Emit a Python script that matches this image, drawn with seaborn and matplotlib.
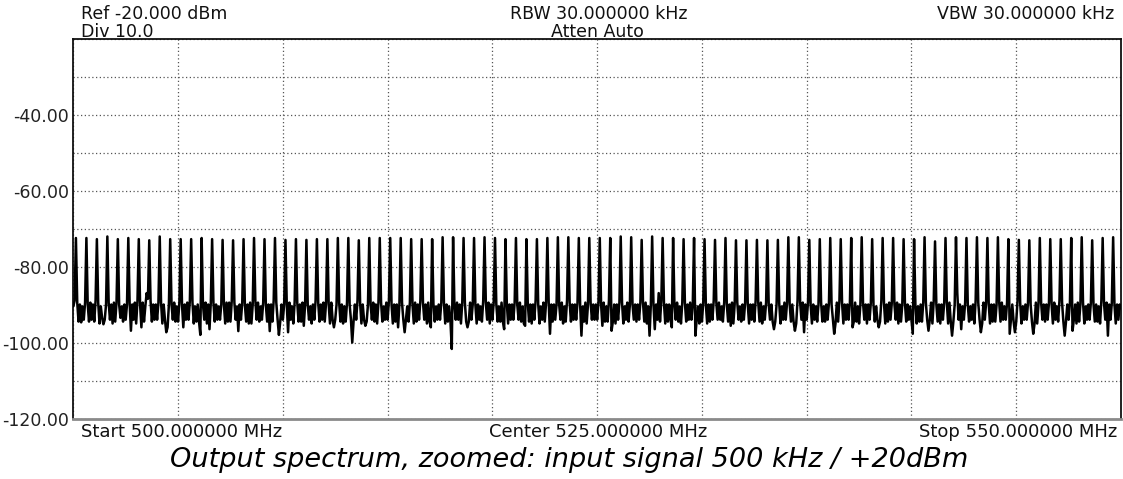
import numpy as np
import pandas as pd
import matplotlib
matplotlib.use("Agg")
import matplotlib.pyplot as plt
import seaborn as sns

# ---------------- data ----------------
start_mhz = 500.0
stop_mhz = 550.0
sweep_points = 801          # 8 sweep points per 0.5 MHz comb period

# peak level of each of the 100 comb lines (dBm), left to right
peak_dbm = [
    -72.5, -72.5, -72.8, -72.1, -72.8, -72.5, -72.8, -73.1, -72.1, -72.8,
    -72.8, -72.8, -72.5, -72.8, -73.0, -73.1, -72.8, -72.5, -72.8, -72.5,
    -73.0, -72.8, -73.0, -72.8, -72.8,
    -72.5, -72.5, -73.1, -72.5, -72.5, -72.5, -72.5, -72.8, -72.8, -72.8,
    -72.3, -72.3, -72.5, -72.5, -72.3, -72.5, -72.8, -72.5, -72.8, -72.8,
    -72.5, -72.3, -72.3, -72.5, -72.5,
    -72.5, -72.5, -72.1, -72.3, -73.0, -72.1, -72.5, -72.5, -72.8, -72.5,
    -72.8, -73.0, -72.5, -73.1, -73.1, -73.0, -73.1, -73.0, -72.3, -72.3,
    -73.0, -72.8, -72.5, -72.8,
    -72.5, -72.3, -72.8, -72.5, -72.5, -72.8, -72.8, -72.3, -73.4, -72.5,
    -72.3, -72.5, -72.3, -72.5, -72.3, -72.8, -73.0, -73.1, -72.5, -72.8,
    -72.8, -72.5, -72.3, -73.1, -72.5, -72.3,
]

# noise-floor sweep points of each comb period (dBm), the line itself excluded
floor_dbm = [
    [-90.5, -89.0, -89.5, -94.5, -90.0, -94.7, -90.5],
    [-94.0, -89.5, -90.0, -94.5, -89.5, -94.0, -90.0],
    [-94.5, -89.0, -89.5, -95.0, -90.5, -93.5, -95.2],
    [-94.0, -90.0, -89.5, -94.0, -90.0, -95.0, -89.5],
    [-94.5, -89.5, -90.0, -93.5, -90.5, -94.5, -90.0],
    [-94.0, -90.0, -89.5, -96.9, -90.0, -94.0, -89.5],
    [-95.0, -89.0, -90.0, -96.0, -89.5, -94.5, -90.5],
    [-87.0, -88.5, -89.0, -94.5, -90.0, -94.0, -90.0],
    [-94.0, -89.5, -89.5, -95.0, -90.0, -94.0, -97.3],
    [-96.0, -90.0, -90.0, -94.0, -89.5, -94.5, -90.5],
    [-94.5, -89.5, -90.0, -96.0, -90.0, -94.0, -89.5],
    [-94.0, -89.0, -89.5, -95.0, -90.5, -94.5, -90.0],
    [-94.5, -98.0, -90.0, -94.0, -89.5, -95.0, -90.0],
    [-96.5, -89.5, -89.5, -94.5, -90.0, -94.0, -90.5],
    [-94.0, -90.0, -90.0, -95.0, -89.5, -94.5, -89.5],
    [-94.5, -89.0, -89.5, -94.0, -90.5, -97.0, -90.0],
    [-94.0, -89.5, -90.0, -94.5, -90.0, -95.0, -89.5],
    [-95.0, -90.0, -89.0, -94.0, -89.5, -94.5, -90.5],
    [-94.0, -89.5, -90.0, -94.5, -90.0, -97.0, -90.0],
    [-94.5, -89.0, -89.5, -94.0, -98.0, -94.5, -90.0],
    [-94.0, -90.0, -90.0, -97.3, -89.5, -94.0, -90.5],
    [-95.0, -89.5, -89.5, -94.5, -90.0, -94.5, -89.5],
    [-95.6, -90.0, -90.0, -94.0, -90.5, -95.0, -90.0],
    [-94.0, -89.0, -89.5, -94.5, -90.0, -94.0, -89.5],
    [-94.5, -89.5, -90.0, -95.0, -89.5, -94.0, -96.0],
    [-94.0, -90.0, -89.5, -94.5, -90.0, -95.0, -90.5],
    [-94.5, -89.5, -90.0, -94.0, -100.0, -94.5, -90.0],
    [-94.0, -89.0, -89.5, -95.0, -90.0, -94.0, -95.6],
    [-94.5, -90.0, -90.0, -94.0, -89.5, -94.5, -90.0],
    [-95.0, -89.5, -89.5, -94.5, -90.5, -94.0, -89.5],
    [-94.0, -89.0, -90.0, -95.0, -90.0, -94.5, -90.0],
    [-96.0, -90.0, -89.5, -94.0, -97.3, -94.0, -90.5],
    [-94.5, -89.5, -90.0, -95.0, -89.5, -94.5, -90.0],
    [-94.0, -89.0, -89.5, -94.0, -90.0, -95.0, -89.5],
    [-94.5, -96.0, -90.0, -94.5, -90.5, -94.0, -90.0],
    [-94.0, -89.5, -89.5, -95.0, -90.0, -94.5, -90.5],
    [-94.5, -101.7, -90.0, -94.0, -89.5, -94.0, -90.0],
    [-95.0, -89.5, -89.5, -94.5, -96.0, -94.5, -89.5],
    [-94.0, -90.0, -90.0, -95.0, -90.0, -94.0, -90.5],
    [-94.5, -89.0, -89.5, -94.0, -89.5, -95.0, -90.0],
    [-94.0, -89.5, -90.0, -94.5, -90.5, -94.5, -89.5],
    [-94.5, -96.5, -89.5, -95.0, -90.0, -94.0, -90.0],
    [-94.0, -89.5, -90.0, -94.0, -89.5, -94.5, -90.5],
    [-95.0, -95.6, -89.5, -94.5, -90.0, -95.0, -90.0],
    [-94.0, -89.0, -90.0, -95.0, -90.5, -94.0, -89.5],
    [-94.5, -89.5, -89.5, -97.7, -90.0, -94.5, -90.0],
    [-94.0, -90.0, -90.0, -94.0, -89.5, -95.0, -90.5],
    [-94.5, -89.0, -89.5, -94.5, -90.0, -94.0, -90.0],
    [-94.0, -89.5, -90.0, -98.2, -90.5, -94.5, -89.5],
    [-95.0, -90.0, -89.5, -94.0, -90.0, -94.0, -90.0],
    [-94.0, -89.5, -90.0, -95.6, -89.5, -94.5, -90.5],
    [-94.5, -89.0, -96.9, -94.5, -90.0, -95.0, -90.0],
    [-94.0, -89.5, -89.5, -95.0, -90.5, -94.0, -89.5],
    [-94.5, -90.0, -90.0, -94.0, -90.0, -94.5, -90.0],
    [-94.0, -89.5, -89.5, -94.5, -89.5, -95.0, -90.5],
    [-98.2, -90.0, -90.0, -96.5, -90.0, -94.0, -87.0],
    [-94.5, -89.0, -89.5, -95.0, -90.0, -94.5, -90.0],
    [-94.0, -96.0, -90.0, -94.0, -89.5, -94.5, -90.5],
    [-95.0, -89.5, -89.5, -94.5, -90.0, -94.0, -89.5],
    [-94.0, -90.0, -98.2, -94.0, -90.5, -95.0, -90.0],
    [-94.5, -89.5, -90.0, -95.0, -90.0, -94.5, -90.0],
    [-94.0, -89.0, -89.5, -94.0, -89.5, -94.0, -90.5],
    [-94.5, -89.5, -90.0, -94.5, -90.0, -95.6, -89.5],
    [-95.0, -90.0, -89.5, -94.0, -90.5, -94.5, -90.0],
    [-94.0, -89.5, -90.0, -95.0, -90.0, -94.0, -90.0],
    [-94.5, -89.0, -89.5, -94.5, -89.5, -95.0, -90.5],
    [-94.0, -89.5, -90.0, -94.0, -90.0, -94.5, -96.5],
    [-94.5, -90.0, -89.5, -95.0, -90.5, -94.0, -89.5],
    [-94.0, -89.5, -90.0, -94.5, -90.0, -94.5, -96.9],
    [-95.0, -89.0, -89.5, -94.0, -89.5, -97.3, -90.0],
    [-94.0, -89.5, -90.0, -95.0, -90.0, -94.0, -90.5],
    [-94.5, -90.0, -89.5, -94.5, -90.5, -94.5, -90.0],
    [-94.0, -89.5, -90.0, -94.0, -97.7, -95.0, -89.5],
    [-94.5, -89.0, -89.5, -95.0, -90.0, -94.0, -90.0],
    [-94.0, -89.5, -96.0, -94.5, -89.5, -94.5, -90.5],
    [-95.0, -90.0, -89.5, -94.0, -90.0, -95.0, -90.0],
    [-94.0, -89.5, -90.0, -94.5, -90.5, -94.0, -96.0],
    [-94.5, -89.0, -89.5, -95.0, -90.0, -94.5, -89.5],
    [-94.0, -89.5, -90.0, -94.0, -89.5, -95.0, -90.0],
    [-94.5, -90.0, -89.5, -94.5, -90.0, -94.0, -90.5],
    [-94.0, -97.7, -90.0, -95.0, -90.5, -94.5, -90.0],
    [-94.5, -89.5, -89.5, -94.0, -96.9, -94.0, -89.5],
    [-95.0, -89.0, -90.0, -94.5, -90.0, -95.0, -90.0],
    [-94.0, -89.5, -89.5, -95.0, -89.5, -94.5, -98.2],
    [-94.5, -90.0, -87.0, -94.0, -90.0, -96.5, -90.5],
    [-94.0, -89.5, -90.0, -94.5, -90.5, -94.0, -90.0],
    [-95.0, -89.0, -89.5, -94.0, -97.3, -95.0, -89.5],
    [-94.0, -89.5, -90.0, -95.0, -90.0, -94.5, -90.0],
    [-94.5, -90.0, -89.5, -94.5, -89.5, -94.0, -90.5],
    [-94.0, -89.5, -97.7, -94.0, -90.0, -94.5, -97.3],
    [-94.5, -89.0, -89.5, -95.0, -90.5, -94.0, -90.0],
    [-94.0, -89.5, -90.0, -94.5, -97.7, -95.0, -89.5],
    [-95.0, -90.0, -89.5, -94.0, -90.0, -94.5, -90.0],
    [-94.0, -89.5, -90.0, -95.0, -89.5, -94.0, -90.5],
    [-94.5, -89.0, -89.5, -94.5, -98.2, -94.5, -90.0],
    [-94.0, -89.5, -96.9, -94.0, -90.0, -95.0, -89.5],
    [-94.5, -90.0, -89.5, -95.0, -90.5, -94.0, -90.0],
    [-94.0, -89.5, -90.0, -94.5, -90.0, -94.5, -90.5],
    [-95.0, -89.0, -89.5, -94.0, -89.5, -98.2, -90.0],
    [-94.0, -89.5, -90.0, -95.0, -90.0, -94.0, -90.0],
]
end_dbm = -91.0

y_grid_dbm = [-120, -110, -100, -90, -80, -70, -60, -50, -40, -30, -20]
y_label_text = {-120: "-120.00", -100: "-100.00", -80: "-80.00",
                -60: "-60.00", -40: "-40.00"}
x_grid_mhz = [500, 505, 510, 515, 520, 525, 530, 535, 540, 545, 550]

header_left = ["Ref -20.000 dBm", "Div 10.0"]
header_mid = ["RBW 30.000000 kHz", "Atten Auto"]
header_right = "VBW 30.000000 kHz"
footer = ["Start 500.000000 MHz", "Center 525.000000 MHz", "Stop 550.000000 MHz"]
caption = "Output spectrum, zoomed: input signal 500 kHz / +20dBm"

# ---------------- build the sweep trace ----------------
trace = []
for pk, row in zip(peak_dbm, floor_dbm):
    trace += [row[0], row[1], pk, row[2], row[3], row[4], row[5], row[6]]
trace.append(end_dbm)
freq = np.linspace(start_mhz, stop_mhz, sweep_points)
df = pd.DataFrame({"freq": freq, "dbm": trace})

# ---------------- figure ----------------
sns.set_style("white")
plt.rcParams["font.family"] = ["DejaVu Sans"]

W, H = 1123, 479
fig = plt.figure(figsize=(W / 100, H / 100), dpi=100)
L, R, T, B = 73.3, 1121.0, 38.5, 418.5
ax = fig.add_axes([L / W, 1 - B / H, (R - L) / W, (B - T) / H])

sns.lineplot(data=df, x="freq", y="dbm", ax=ax, color="black", linewidth=1.8,
             estimator=None, sort=False, zorder=3)

ax.set_xlim(start_mhz, stop_mhz)
ax.set_ylim(-120, -20)
ax.set_xticks(x_grid_mhz)
ax.set_xticklabels([""] * len(x_grid_mhz))
ax.set_yticks(y_grid_dbm)
ax.set_yticklabels([y_label_text.get(v, "") for v in y_grid_dbm])
ax.set_xlabel("")
ax.set_ylabel("")
ax.tick_params(axis="both", length=0, labelsize=12.5, pad=3, colors="#222222")
ax.grid(True, linestyle=(0, (1, 2)), color="#555555", linewidth=0.9)
ax.set_axisbelow(True)

for s in ["top", "left", "right"]:
    ax.spines[s].set_color("#111111")
    ax.spines[s].set_linewidth(1.3)
ax.spines["bottom"].set_color("#8a8a8a")
ax.spines["bottom"].set_linewidth(2.0)


def ftext(x, y, s, color="#111111", **kw):
    fig.text(x / W, 1 - y / H, s, va="baseline", color=color, **kw)


fs = 12.5
ftext(81, 19.0, header_left[0], ha="left", fontsize=fs)
ftext(81, 37.0, header_left[1], ha="left", fontsize=fs)
ftext(599, 19.0, header_mid[0], ha="center", fontsize=fs)
ftext(597, 37.0, header_mid[1], ha="center", fontsize=fs)
ftext(1114, 19.0, header_right, ha="right", fontsize=fs)

ftext(81, 437, footer[0], ha="left", fontsize=13)
ftext(598, 437, footer[1], ha="center", fontsize=13)
ftext(1117, 437, footer[2], ha="right", fontsize=13)

ftext(569, 467, caption, ha="center", fontsize=19.5, style="italic", color="black")

fig.savefig("out.png", dpi=100)
